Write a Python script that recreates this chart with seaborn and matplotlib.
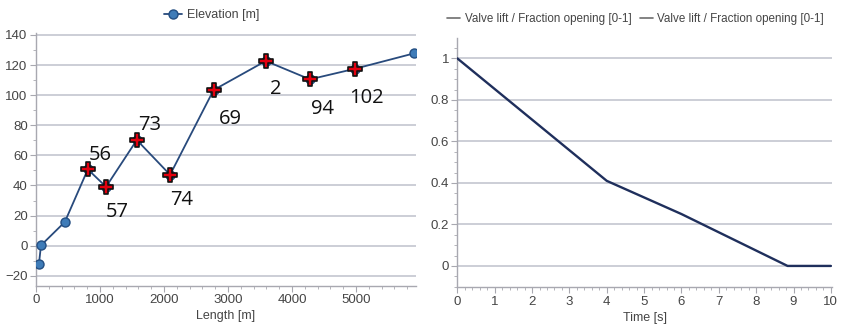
import matplotlib
matplotlib.use("Agg")
import matplotlib.pyplot as plt
from matplotlib.lines import Line2D
from matplotlib.ticker import MultipleLocator
import seaborn as sns
import pandas as pd

# ---------------- data ----------------
length_m = [45, 78, 450, 810, 1095, 1575, 2095, 2775, 3590, 4280, 4990, 5910]
elevation_m = [-12.5, 0.2, 15.7, 50.7, 39.1, 70.2, 47.1, 103.4, 122.7, 110.5, 117.6, 127.8]
cross_idx = [3, 4, 5, 6, 7, 8, 9, 10]
cross_labels = ["56", "57", "73", "74", "69", "2", "94", "102"]
# label offsets in points (layout only)
label_dx = [9, 8, 9, 8, 12, 7, 9, 8]
label_dy = [10, -18, 11, -18, -21, -20, -21, -21]

time_s = [0, 4.0, 6.0, 8.84, 10.0]
valve_lift = [1.0, 0.41, 0.25, 0.0, 0.0]

legend_left = "Elevation [m]"
legend_right = ["Valve lift / Fraction opening [0-1]", "Valve lift / Fraction opening [0-1]"]
xlabel_left = "Length [m]"
xlabel_right = "Time [s]"

# ---------------- style ----------------
sns.set_theme(style="white")
plt.rcParams["font.family"] = ["Liberation Sans", "DejaVu Sans"]
tick_color = "#454545"
spine_color = "#a8a8b0"
grid_color = "#c4c6d0"
line_color = "#284a7c"
marker_face = "#3f7cb8"
marker_edge = "#234e82"

fig = plt.figure(figsize=(8.41, 3.31), dpi=100)
ax1 = fig.add_axes([0.0428, 0.1369, 0.4518, 0.7634])
ax2 = fig.add_axes([0.5438, 0.132, 0.4455, 0.753])

df1 = pd.DataFrame({"x": length_m, "y": elevation_m})
dfc = df1.iloc[cross_idx].reset_index(drop=True)
df2 = pd.DataFrame({"t": time_s, "v": valve_lift})

# ---- left panel ----
sns.lineplot(data=df1, x="x", y="y", ax=ax1, color=line_color, lw=1.3,
             marker="o", markersize=6.5, markerfacecolor=marker_face,
             markeredgecolor=marker_edge, markeredgewidth=1.0, zorder=3)
sns.scatterplot(data=dfc, x="x", y="y", ax=ax1, marker="P", s=90,
                color="#e3000f", edgecolor="#111111", linewidth=1.2, zorder=4)
for i, lab in enumerate(cross_labels):
    ax1.annotate(lab, (dfc["x"][i], dfc["y"][i]), xytext=(label_dx[i], label_dy[i]),
                 textcoords="offset points", ha="center", va="center",
                 fontsize=14.5, color="#111111", family=["Open Sans", "DejaVu Sans"], zorder=5)

ax1.set_xlim(0, 5937)
ax1.set_ylim(-26.6, 141.3)
ax1.set_xticks([0, 1000, 2000, 3000, 4000, 5000])
ax1.set_yticks([-20, 0, 20, 40, 60, 80, 100, 120, 140])
ax1.xaxis.set_minor_locator(MultipleLocator(200))
ax1.yaxis.set_minor_locator(MultipleLocator(10))

# ---- right panel ----
sns.lineplot(data=df2, x="t", y="v", ax=ax2, color="#1f2f5c", lw=1.7, zorder=3)
ax2.set_xlim(0, 10.03)
ax2.set_ylim(-0.103, 1.098)
ax2.set_xticks(range(0, 11))
ax2.set_yticks([0, 0.2, 0.4, 0.6, 0.8, 1.0])
ax2.set_yticklabels(["0", "0.2", "0.4", "0.6", "0.8", "1"])
ax2.xaxis.set_minor_locator(MultipleLocator(0.2))
ax2.yaxis.set_minor_locator(MultipleLocator(0.05))

for ax, xl in ((ax1, xlabel_left), (ax2, xlabel_right)):
    ax.set_xlabel(xl, fontsize=9, color=tick_color, labelpad=3)
    ax.set_ylabel("")
    ax.grid(axis="y", color=grid_color, lw=1.2)
    ax.grid(axis="x", visible=False)
    ax.set_axisbelow(True)
    for s in ("top", "right"):
        ax.spines[s].set_visible(False)
    for s in ("left", "bottom"):
        ax.spines[s].set_color(spine_color)
        ax.spines[s].set_linewidth(1.0)
    ax.tick_params(axis="both", which="major", labelsize=9.5, colors=spine_color,
                   labelcolor=tick_color, length=4, width=0.8, direction="out", pad=2)
    ax.tick_params(axis="both", which="minor", colors=spine_color, length=2.5,
                   width=0.6, direction="out")
    ax.tick_params(axis="x", which="both", bottom=True)
    ax.tick_params(axis="y", which="both", left=True)
    ax.patch.set_alpha(0)

# ---- legends ----
h1 = [Line2D([], [], color=line_color, lw=1.3, marker="o", markersize=6.5,
             markerfacecolor=marker_face, markeredgecolor=marker_edge)]
fig.legend(h1, [legend_left], loc="center", bbox_to_anchor=(0.252, 0.955),
           frameon=False, fontsize=9, labelcolor=tick_color, handlelength=1.4,
           handletextpad=0.4)
h2 = [Line2D([], [], color="#6e6e6e", lw=1.2) for _ in legend_right]
fig.legend(h2, legend_right, loc="center", bbox_to_anchor=(0.756, 0.943),
           ncol=2, frameon=False, fontsize=8.4, labelcolor=tick_color,
           handlelength=1.1, handletextpad=0.4, columnspacing=0.7)

fig.savefig("out.png", dpi=100)
